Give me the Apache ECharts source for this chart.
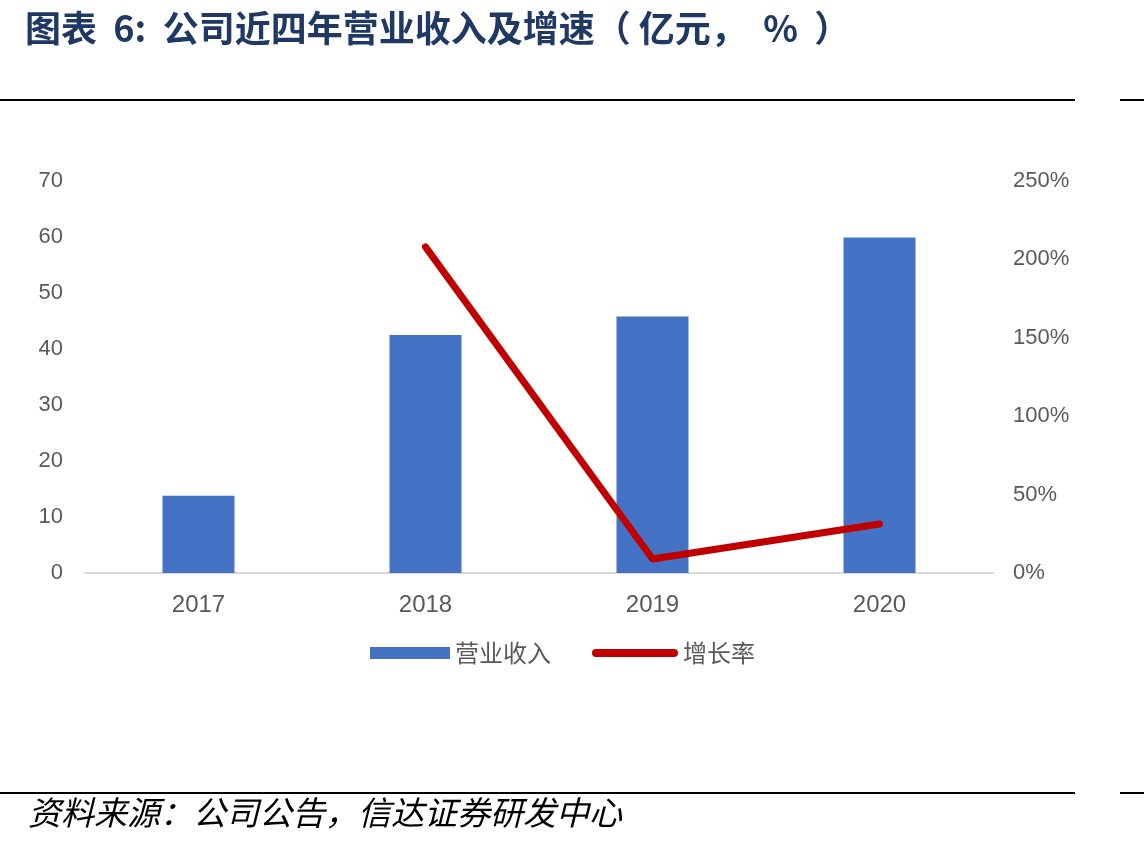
<!DOCTYPE html>
<html>
<head>
<meta charset="utf-8">
<script src="https://cdn.jsdelivr.net/npm/echarts@6/dist/echarts.min.js"></script>
<style>
  html, body { margin: 0; padding: 0; background: #ffffff; }
  #chart { width: 1144px; height: 847px; }
</style>
</head>
<body>
<div id="chart"></div>
<script>
// 数据
const years = ["2017", "2018", "2019", "2020"];
const revenue = [13.8, 42.5, 45.8, 59.9];       // 营业收入（亿元）
const growth = [null, 208, 8.9, 31.2];           // 增长率（%）
const leftTicks = { min: 0, max: 70, interval: 10 };
const rightTicks = { min: 0, max: 250, interval: 50 };

const cjk = '"Noto Sans CJK SC", "Noto Sans", sans-serif';
const latin = '"Liberation Sans", Arial, sans-serif';

var chart = echarts.init(document.getElementById("chart"));

var options = {
  backgroundColor: "#ffffff",
  animation: false,
  title: {
    text: "图表  6:  公司近四年营业收入及增速（ 亿元，  %  ）",
    left: 20,
    top: 5,
    textStyle: {
      fontFamily: cjk,
      fontSize: 36,
      fontWeight: "bold",
      color: "#1F3864"
    }
  },
  legend: [
    {
      data: [{ name: "营业收入", icon: "rect" }],
      left: 365,
      top: 636,
      itemWidth: 80,
      itemHeight: 12,
      textStyle: { fontFamily: cjk, fontSize: 24, color: "#595959" }
    },
    {
      data: [{ name: "增长率", icon: "path://M4,0 H82 A4,4 0 0 1 82,8 H4 A4,4 0 0 1 4,0 Z" }],
      left: 587,
      top: 636,
      itemWidth: 86,
      itemHeight: 8,
      textStyle: { fontFamily: cjk, fontSize: 24, color: "#595959" }
    }
  ],
  grid: {
    left: 85,
    right: 151,
    top: 181,
    bottom: 274
  },
  xAxis: {
    type: "category",
    data: years,
    axisLine: { show: true, lineStyle: { color: "#D9D9D9", width: 2 } },
    axisTick: { show: false },
    axisLabel: {
      margin: 20,
      fontFamily: latin,
      fontSize: 24,
      color: "#595959"
    }
  },
  yAxis: [
    {
      type: "value",
      min: leftTicks.min,
      max: leftTicks.max,
      interval: leftTicks.interval,
      splitLine: { show: false },
      axisLine: { show: false },
      axisTick: { show: false },
      axisLabel: {
        margin: 22,
        fontFamily: latin,
        fontSize: 22,
        color: "#595959",
        padding: [4, 0, 0, 0]
      }
    },
    {
      type: "value",
      min: rightTicks.min,
      max: rightTicks.max,
      interval: rightTicks.interval,
      splitLine: { show: false },
      axisLine: { show: false },
      axisTick: { show: false },
      axisLabel: {
        margin: 20,
        formatter: "{value}%",
        fontFamily: latin,
        fontSize: 22,
        color: "#595959",
        padding: [4, 0, 0, 0]
      }
    }
  ],
  series: [
    {
      name: "营业收入",
      type: "bar",
      data: revenue,
      barWidth: 72,
      itemStyle: { color: "#4472C4" }
    },
    {
      name: "增长率",
      type: "line",
      yAxisIndex: 1,
      data: growth,
      showSymbol: false,
      symbol: "none",
      itemStyle: { color: "#C00000" },
      lineStyle: { color: "#C00000", width: 7, cap: "round", join: "round" }
    }
  ],
  graphic: [
    { type: "rect", shape: { x: 0, y: 99, width: 1075, height: 2 }, style: { fill: "#000000" } },
    { type: "rect", shape: { x: 1120, y: 99, width: 24, height: 2 }, style: { fill: "#000000" } },
    { type: "rect", shape: { x: 0, y: 792, width: 1075, height: 2 }, style: { fill: "#000000" } },
    { type: "rect", shape: { x: 1120, y: 792, width: 24, height: 2 }, style: { fill: "#000000" } },
    {
      type: "text",
      left: 28,
      top: 796,
      style: {
        text: "资料来源：公司公告，信达证券研发中心",
        font: 'italic 33px "Noto Sans CJK SC", sans-serif',
        fill: "#000000"
      }
    }
  ]
};

chart.setOption(options);
</script>
</body>
</html>
